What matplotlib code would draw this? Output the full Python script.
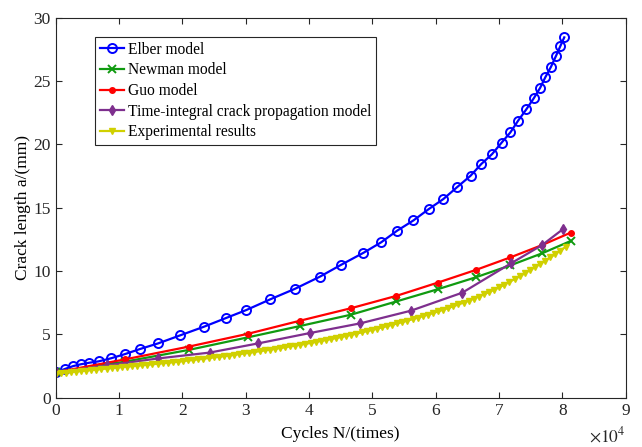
import numpy as np
import matplotlib
matplotlib.use("Agg")
import matplotlib.pyplot as plt

plt.rcParams['font.family'] = ['Liberation Serif', 'DejaVu Serif']
plt.rcParams['mathtext.fontset'] = 'stix'

# cycles in units of 1e4
elber_x = [0.0, 0.148, 0.28, 0.40, 0.53, 0.68, 0.875, 1.10, 1.33, 1.62, 1.965,
           2.34, 2.69, 3.01, 3.39, 3.78, 4.17, 4.51, 4.86, 5.14, 5.39, 5.65,
           5.89, 6.12, 6.34, 6.55, 6.72, 6.89, 7.04, 7.18, 7.30, 7.43, 7.55,
           7.65, 7.73, 7.82, 7.90, 7.97, 8.03]
elber_y = [2.0, 2.27, 2.50, 2.64, 2.76, 2.87, 3.11, 3.45, 3.84, 4.29, 4.92,
           5.60, 6.29, 6.92, 7.77, 8.60, 9.55, 10.50, 11.44, 12.27, 13.18, 14.00,
           14.89, 15.68, 16.63, 17.52, 18.45, 19.23, 20.13, 20.95, 21.86, 22.76, 23.65,
           24.47, 25.29, 26.12, 26.99, 27.78, 28.45]

model_x = [0.0, 1.10, 2.10, 3.04, 3.86, 4.66, 5.38, 6.03, 6.63, 7.18, 7.68, 8.13]
newman_y = [2.0, 2.85, 3.77, 4.77, 5.66, 6.55, 7.60, 8.56, 9.50, 10.45, 11.40, 12.37]
guo_y = [2.0, 3.03, 4.03, 5.05, 6.08, 7.06, 8.04, 9.08, 10.08, 11.08, 12.05, 13.03]

ti_x = [0.0, 0.81, 1.62, 2.43, 3.20, 4.01, 4.81, 5.61, 6.42, 7.19, 7.68, 8.01]
ti_y = [2.0, 2.55, 3.10, 3.56, 4.29, 5.10, 5.87, 6.87, 8.29, 10.61, 12.05, 13.31]

exp_x = np.linspace(0, 8.05, 101)
exp_y = [1.90, 1.94, 1.98, 2.02, 2.06, 2.10, 2.14, 2.18, 2.22, 2.26,
         2.30, 2.34, 2.38, 2.42, 2.46, 2.49, 2.53, 2.56, 2.60, 2.64,
         2.68, 2.72, 2.76, 2.80, 2.84, 2.89, 2.94, 2.98, 3.03, 3.08,
         3.13, 3.18, 3.23, 3.28, 3.33, 3.38, 3.44, 3.49, 3.55, 3.61,
         3.67, 3.73, 3.79, 3.85, 3.92, 3.98, 4.05, 4.12, 4.19, 4.25,
         4.32, 4.40, 4.48, 4.55, 4.63, 4.71, 4.79, 4.88, 4.97, 5.06,
         5.15, 5.25, 5.34, 5.44, 5.55, 5.65, 5.76, 5.86, 5.97, 6.08,
         6.20, 6.32, 6.44, 6.56, 6.68, 6.81, 6.95, 7.08, 7.22, 7.36,
         7.50, 7.65, 7.82, 7.99, 8.16, 8.34, 8.52, 8.71, 8.92, 9.14,
         9.36, 9.58, 9.82, 10.06, 10.30, 10.55, 10.81, 11.07, 11.34, 11.62,
         11.90]

fig = plt.figure(figsize=(6.42, 4.47), dpi=100)
ax = fig.add_axes([0.0866, 0.1103, 0.888, 0.850])

ax.plot(elber_x, elber_y, color='#0000ff', lw=1.6, marker='o', ms=6.5,
        mfc='none', mew=1.4, label='Elber model')
ax.plot(model_x, newman_y, color='#109a10', lw=1.6, marker='x', ms=6,
        mew=1.4, label='Newman model')
ax.plot(model_x, guo_y, color='#ff0000', lw=1.6, marker='.', ms=8,
        label='Guo model')
ax.plot(ti_x, ti_y, color='#7e2f8e', lw=1.6, marker='d', ms=5,
        label='Time-integral crack propagation model')
ax.plot(exp_x, exp_y, color='#d0d000', lw=1.6, marker='v', ms=4,
        label='Experimental results')

ax.set_xlim(0, 9)
ax.set_ylim(0, 30)
ax.set_xticks(range(0, 10))
ax.set_yticks(range(0, 31, 5))
ax.tick_params(direction='in', top=True, right=True, labelsize=12.5,
               colors='#262626', length=4)
for s in ax.spines.values():
    s.set_color('#262626')
    s.set_linewidth(0.8)

ax.set_xlabel('Cycles N/(times)', fontsize=12.5, labelpad=5)
ax.set_ylabel('Crack length a/(mm)', fontsize=12.5, labelpad=2)
ax.text(1.0, -0.075, r'$\times10^4$', transform=ax.transAxes, fontsize=12.5,
        ha='right', va='top', color='#262626')

leg = ax.legend(loc='upper left', bbox_to_anchor=(0.069, 0.949), borderaxespad=0,
                fontsize=11.2, fancybox=False, edgecolor='#262626', framealpha=1,
                handlelength=1.6, handletextpad=0.2, labelspacing=0.3,
                borderpad=0.3)
leg.get_frame().set_linewidth(0.8)

fig.savefig('out.png', dpi=100)
